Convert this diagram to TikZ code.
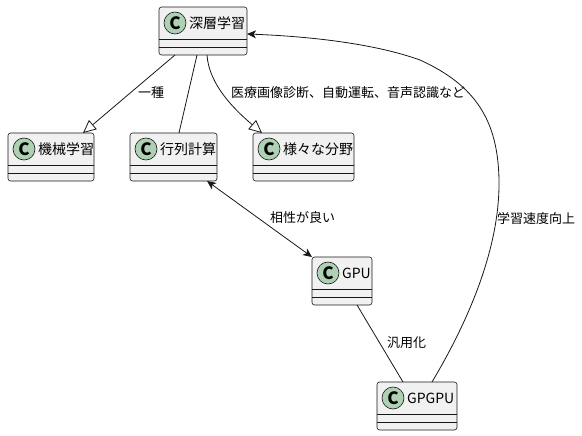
\documentclass[tikz,border=0pt]{standalone}
\usepackage{fontspec}
\setmainfont{Noto Sans CJK JP}
\usetikzlibrary{arrows.meta, calc}
\definecolor{bordo}{HTML}{181818}
\definecolor{sfondo}{HTML}{F1F1F1}
\definecolor{verdec}{HTML}{ADD1B2}

\begin{document}
\begin{tikzpicture}[x=1pt, y=-1pt,
	classe/.style={draw=bordo, fill=sfondo, line width=0.6pt, rounded corners=2.5pt, minimum height=48pt, inner sep=0pt, outer sep=0pt},
	cerchio/.style={circle, draw=bordo, fill=verdec, line width=0.6pt, minimum size=22pt, inner sep=0pt, font=\fontsize{17}{17}\selectfont\bfseries},
	nome/.style={anchor=west, inner sep=0pt, font=\fontsize{14}{16}\selectfont},
	etichetta/.style={anchor=west, inner sep=0pt, font=\fontsize{13}{15}\selectfont},
	linea/.style={draw=bordo, line width=0.8pt},
	eredita/.style={linea, -{Triangle[open, length=13pt, width=12pt, fill=white]}},
	freccia/.style={linea, -{Stealth[length=9pt, width=8pt, inset=2.5pt]}}]
			\useasboundingbox (0, 0) rectangle (582, 436);
			% classi
			\node[classe, minimum width=88] (dl) at (203, 31) {};
			\node[classe, minimum width=86] (ml) at (51, 157) {};
			\node[classe, minimum width=87] (mat) at (173.5, 157) {};
			\node[classe, minimum width=101] (camp) at (303.5, 157) {};
			\node[classe, minimum width=60] (gpu) at (342, 281) {};
			\node[classe, minimum width=80] (gpgpu) at (417, 406) {};
			% intestazioni
			\foreach \n/\w in {dl/88, ml/86, mat/87, camp/101, gpu/60, gpgpu/80} {
				\draw[bordo, line width=0.6pt] ($(\n.north west)+(0, 32)$) -- ++(\w, 0) ($(\n.north west)+(0, 40)$) -- ++(\w, 0);
				\node[cerchio] (\n c) at ($(\n.north west)+(16, 16)$) {C};
			}
			\node[nome] (dlt) at ($(dl.north west)+(30, 16)$) {深層学習};
			\node[nome] (mlt) at ($(ml.north west)+(30, 16)$) {機械学習};
			\node[nome] (matt) at ($(mat.north west)+(30, 16)$) {行列計算};
			\node[nome] (campt) at ($(camp.north west)+(30, 16)$) {様々な分野};
			\node[nome] (gput) at ($(gpu.north west)+(30, 16)$) {GPU};
			\node[nome] (gpgput) at ($(gpgpu.north west)+(30, 16)$) {GPGPU};
			% relazioni
			\draw[eredita] ($(dl.south west)+(16, 0)$) -- ($(ml.north west)+(75, 0)$);
			\draw[linea] ($(dl.south west)+(38, 0)$) -- ($(mat.north west)+(49, 0)$);
			\draw[eredita] ($(dl.south west)+(48, 0)$) .. controls (209, 85) and (235, 110) .. ($(camp.north west)+(9, 0)$);
			\draw[freccia, {Stealth[length=9pt, width=8pt, inset=2.5pt]}-{Stealth[length=9pt, width=8pt, inset=2.5pt]}] ($(mat.south west)+(77, 0)$) -- (gpu.north west);
			\draw[linea] ($(gpu.south west)+(45, 0)$) -- ($(gpgpu.north west)+(26, 0)$);
			\draw[freccia] ($(gpgpu.north west)+(55, 0)$) .. controls (475, 310) and (500, 240) .. (499, 180)
				.. controls (498, 120) and (475, 85) .. (420, 60)
				.. controls (370, 42) and (300, 36) .. ($(dl.north east)+(0, 27)$);
			% etichette
			\node[etichetta] (l1) at (138, 93) {一種};
			\node[etichetta] (l2) at (231, 93) {医療画像診断、自動運転、音声認識など};
			\node[etichetta] (l3) at (270, 218) {相性が良い};
			\node[etichetta] (l4) at (387, 343) {汎用化};
			\node[etichetta] (l5) at (497, 219) {学習速度向上};
		\end{tikzpicture}
\end{document}
